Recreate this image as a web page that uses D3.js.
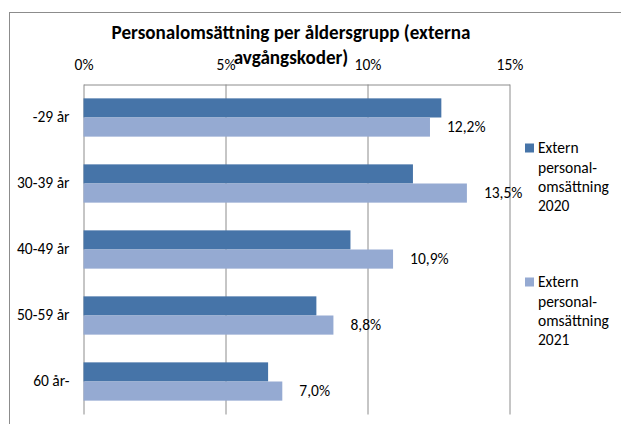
<!DOCTYPE html>
<html>
<head>
<meta charset="utf-8">
<script src="https://cdn.jsdelivr.net/npm/d3@7"></script>
<style>
    body { margin: 0; background: #fff; }
    text { font-family: Carlito, Lato, "Liberation Sans", sans-serif; fill: #000; }
</style>
</head>
<body>
<div id="chart"></div>
<script>
const categories = ['-29 år', '30-39 år', '40-49 år', '50-59 år', '60 år-'];
const series = ['Extern personal-omsättning 2020', 'Extern personal-omsättning 2021'];
const values2020 = [0.126, 0.116, 0.094, 0.082, 0.065];
const values2021 = [0.122, 0.135, 0.109, 0.088, 0.070];
const ticks = [0, 0.05, 0.10, 0.15];
const titleLines = ['Personalomsättning per åldersgrupp (externa', 'avgångskoder)'];
const legendLines = [
    ['Extern', 'personal-', 'omsättning', '2020'],
    ['Extern', 'personal-', 'omsättning', '2021']
];

const colors = ['#4674a8', '#95aad2'];
const width = 621;
const height = 424;
const margin = {top: 84.5, left: 83.5, right: 111.5, bottom: 9.5};
const plotW = width - margin.left - margin.right;
const plotH = height - margin.top - margin.bottom;
const labelSize = 15.5;

const sv = d3.formatLocale({decimal: ',', thousands: ' ', grouping: [3], currency: ['', ' kr']});
const pctLabel = sv.format('.1%');

const rows = categories.map((c, i) => ({cat: c, vals: [values2020[i], values2021[i]]}));

const svg = d3.select('#chart')
    .append('svg')
    .attr('width', width)
    .attr('height', height);

// chart frame (runs off the right and bottom edge)
svg.append('rect')
    .attr('x', 9.5)
    .attr('y', 12.5)
    .attr('width', 700)
    .attr('height', 500)
    .attr('fill', 'none')
    .attr('stroke', '#8c8c8c');

const g = svg.append('g')
    .attr('transform', `translate(${margin.left},${margin.top})`);

const x = d3.scaleLinear()
    .domain([0, 0.15])
    .range([0, plotW]);

const y = d3.scaleBand()
    .domain(categories)
    .range([0, plotH])
    .paddingInner(0.42)
    .paddingOuter(0.21);

const ySub = d3.scaleBand()
    .domain([0, 1])
    .range([0, y.bandwidth()]);

const xAxis = d3.axisTop(x)
    .tickValues(ticks)
    .tickFormat(d3.format('.0%'))
    .tickSizeInner(-plotH)
    .tickSizeOuter(0)
    .tickPadding(15);

const xg = g.append('g')
    .attr('class', 'x axis')
    .call(xAxis);
xg.selectAll('line').attr('stroke', '#8c8c8c');
xg.select('.domain').attr('stroke', '#8c8c8c');
xg.selectAll('text')
    .style('font-size', labelSize + 'px');

const yAxis = d3.axisLeft(y).tickSize(0).tickPadding(14);
const yg = g.append('g')
    .attr('class', 'y axis')
    .call(yAxis);
yg.select('.domain').remove();
yg.selectAll('text')
    .style('font-size', labelSize + 'px');

const groups = g.selectAll('.group')
    .data(rows)
    .enter().append('g')
    .attr('class', 'group')
    .attr('transform', d => `translate(0,${y(d.cat)})`);

groups.selectAll('.bar')
    .data(d => d.vals.map((v, i) => ({v: v, i: i})))
    .enter().append('rect')
    .attr('class', 'bar')
    .attr('x', 0)
    .attr('y', d => ySub(d.i))
    .attr('width', d => x(d.v))
    .attr('height', ySub.bandwidth())
    .attr('fill', d => colors[d.i]);

groups.append('text')
    .attr('x', d => x(d.vals[1]) + 17)
    .attr('y', ySub(1) + ySub.bandwidth() / 2)
    .attr('dy', '0.35em')
    .style('font-size', labelSize + 'px')
    .text(d => pctLabel(d.vals[1]));

// title, sized so the first line spans the same width as the reference
const title = svg.append('text')
    .attr('text-anchor', 'middle')
    .style('font-weight', 'bold')
    .style('font-size', '16px');
title.selectAll('tspan')
    .data(titleLines)
    .enter().append('tspan')
    .attr('x', 291)
    .attr('y', (d, i) => 39 + i * 25)
    .text(d => d);
const firstW = title.select('tspan').node().getComputedTextLength();
title.style('font-size', (16 * 359 / firstW) + 'px');

// legend
const legend = svg.selectAll('.legend')
    .data(series)
    .enter().append('g')
    .attr('class', 'legend')
    .attr('transform', (d, i) => `translate(525,${148 + i * 134})`);

legend.append('rect')
    .attr('x', 0)
    .attr('y', -4.5)
    .attr('width', 9)
    .attr('height', 9)
    .attr('fill', (d, i) => colors[i]);

legend.append('text')
    .style('font-size', labelSize + 'px')
    .selectAll('tspan')
    .data((d, i) => legendLines[i])
    .enter().append('tspan')
    .attr('x', 13)
    .attr('y', (d, i) => i * 19.3)
    .attr('dy', '0.35em')
    .text(d => d);
</script>
</body>
</html>
